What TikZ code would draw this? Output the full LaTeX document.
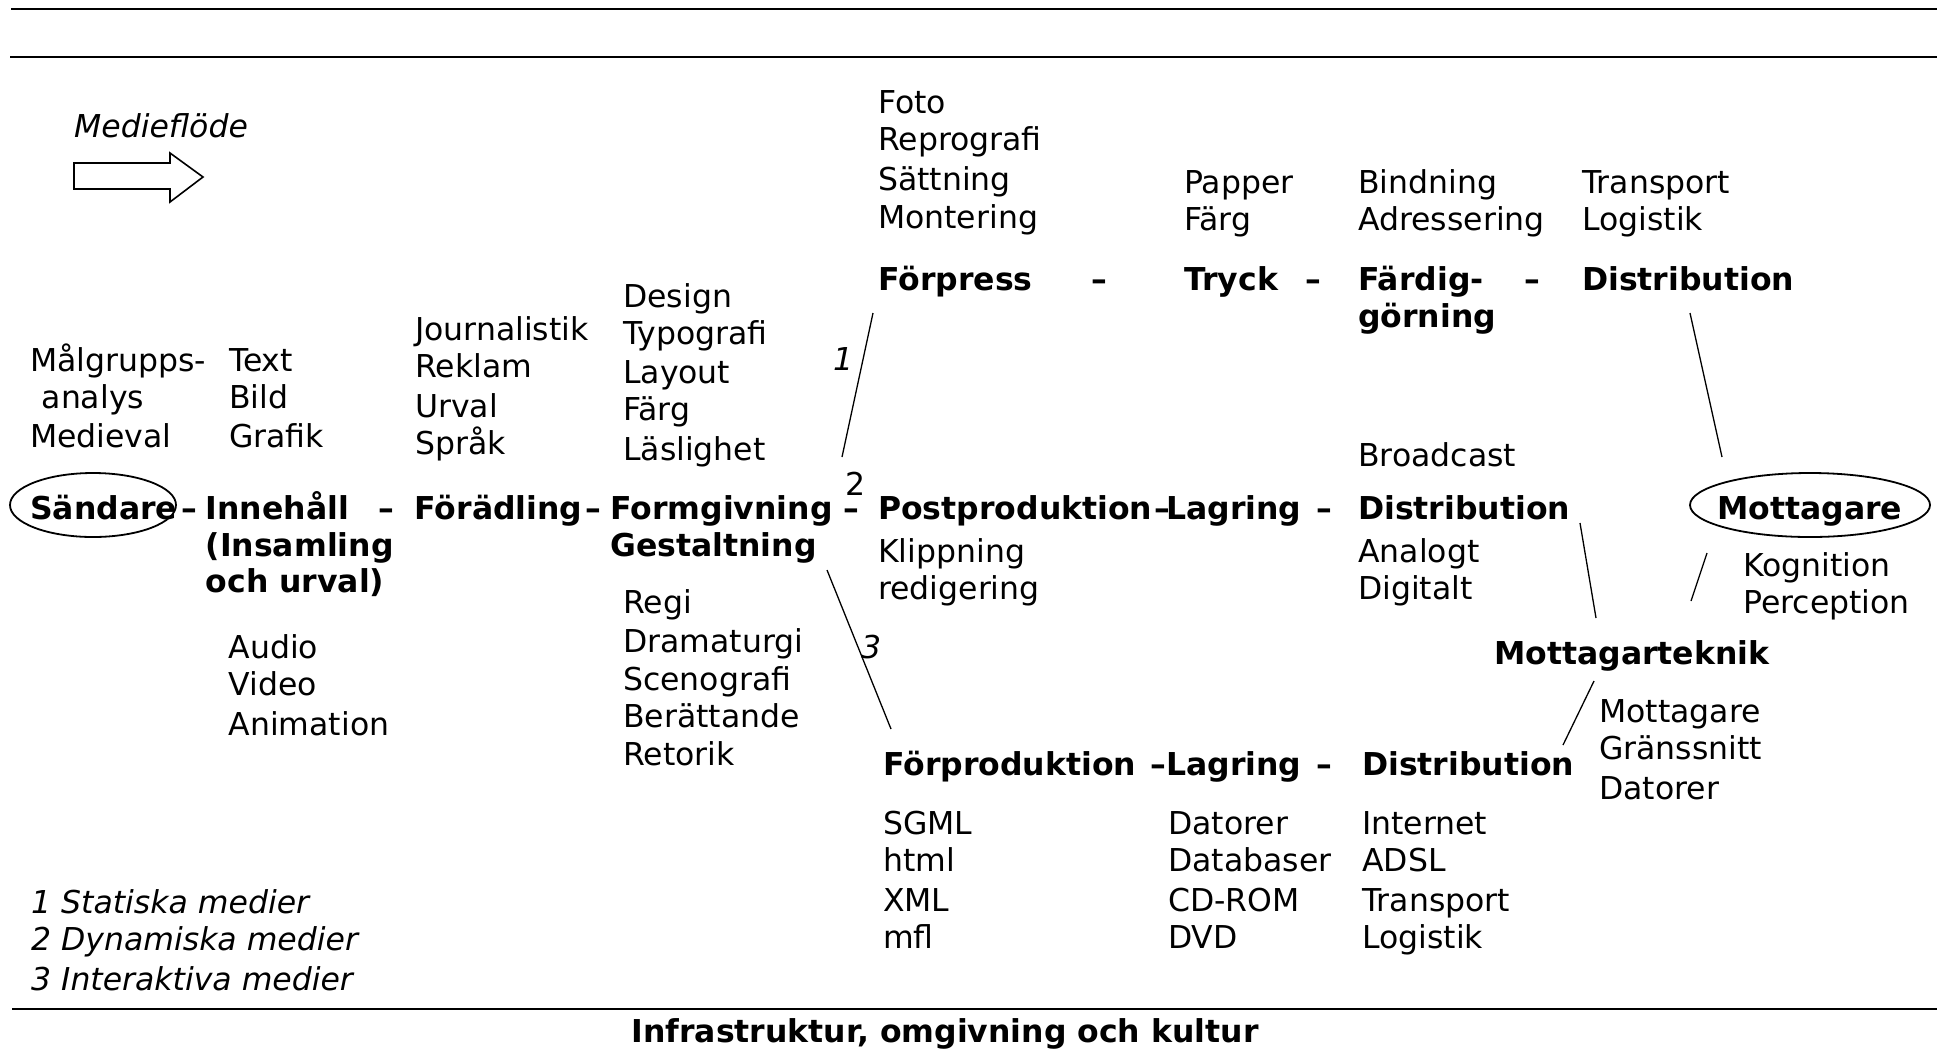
\documentclass[tikz,border=0pt]{standalone}
\usepackage{fontspec}
\setmainfont{DejaVu Sans}
\usetikzlibrary{shapes.geometric}
\def\mfReg{\fontsize{31.5}{38}\selectfont}
\def\mfBold{\fontsize{31.5}{38}\selectfont\bfseries}
\def\mfIt{\fontsize{31.5}{38}\selectfont\itshape}
% one column of plain words, given as baseline/text pairs
\def\mfCol#1#2#3{%
  \foreach \yb/\t [count=\i] in {#3}
    \node[mftxt] (#1\i) at (#2,\yb) {\t};}
\def\mfHead#1#2#3#4{\node[mfhead] (#1) at (#2,#3) {#4};}
\def\mfDash#1#2#3{\node[mfdash] (#1) at (#2,#3) {–};}

\begin{document}
\begin{tikzpicture}[
    x=1pt, y=-1pt,
    mftxt/.style  = {font=\mfReg,  anchor=base west, inner sep=0pt},
    mfhead/.style = {font=\mfBold, anchor=base west, inner sep=0pt},
    mfdash/.style = {font=\mfBold, anchor=base,      inner sep=0pt},
    mfnum/.style  = {font=\mfIt,   anchor=base west, inner sep=0pt},
    mfline/.style = {line width=1.3pt},
    mfrule/.style = {line width=2.4pt},
    mfring/.style = {draw, ellipse, line width=1.8pt, inner sep=0pt}]

  \useasboundingbox (0,0) rectangle (1937,1053);

  %% ---- frame rules -------------------------------------------------
  \coordinate (ruleAw) at (11,9);    \coordinate (ruleAe) at (1937,9);
  \coordinate (ruleBw) at (10,57);   \coordinate (ruleBe) at (1937,57);
  \coordinate (ruleCw) at (12,1009); \coordinate (ruleCe) at (1937,1009);
  \draw[mfrule] (ruleAw) -- (ruleAe);
  \draw[mfrule] (ruleBw) -- (ruleBe);
  \draw[mfrule] (ruleCw) -- (ruleCe);

  %% ---- media flow arrow --------------------------------------------
  \node[mfnum] (flode) at (74,137) {Medieflöde};
  \draw[line width=1.6pt] (74,163) -- (170,163) -- (170,153) -- (203,177)
    -- (170,202) -- (170,189) -- (74,189) -- cycle;

  %% ---- main row ----------------------------------------------------
  \node[mfring, minimum width=166pt, minimum height=64pt] (sring) at (93,505) {};
  \mfHead{sand}{30}{519}{Sändare}
  \mfDash{dA}{189}{519}
  \mfHead{inne}{205.5}{519}{Innehåll}
  \mfHead{insa}{205.5}{556}{(Insamling}
  \mfHead{ochu}{205.5}{592}{och urval)}
  \mfDash{dB}{386}{519}
  \mfHead{fora}{414.5}{519}{Förädling}
  \mfDash{dC}{593}{519}
  \mfHead{form}{610}{519}{Formgivning}
  \mfHead{gest}{610}{556}{Gestaltning}
  \mfDash{dD}{851}{519}
  \mfHead{post}{878}{519}{Postproduktion}
  \mfDash{dE}{1162}{519}
  \mfHead{lagA}{1166}{519}{Lagring}
  \mfDash{dF}{1324}{519}
  \mfHead{disA}{1358}{519}{Distribution}
  \node[mfring, minimum width=240pt, minimum height=64pt] (mring) at (1810,505) {};
  \mfHead{mott}{1717}{519}{Mottagare}

  %% ---- print row ---------------------------------------------------
  \mfHead{forp}{878}{290}{Förpress}
  \mfDash{dG}{1099}{290}
  \mfHead{tryc}{1184}{290}{Tryck}
  \mfDash{dH}{1313}{290}
  \mfHead{fard}{1358}{290}{Färdig-}
  \mfHead{gorn}{1358}{327}{görning}
  \mfDash{dI}{1532}{290}
  \mfHead{disB}{1582}{290}{Distribution}

  %% ---- interactive row ---------------------------------------------
  \mfHead{forprod}{883}{775}{Förproduktion}
  \mfDash{dJ}{1158}{775}
  \mfHead{lagB}{1166}{775}{Lagring}
  \mfDash{dK}{1324}{775}
  \mfHead{disC}{1362}{775}{Distribution}
  \mfHead{mtek}{1494}{664}{Mottagarteknik}

  %% ---- word columns ------------------------------------------------
  \mfCol{malg}{30}{371/Målgrupps-, 408/\hspace{11.5pt}analys, 447/Medieval}
  \mfCol{text}{229}{371/Text, 408/Bild, 447/Grafik}
  \mfCol{jour}{415}{340/Journalistik, 377/Reklam, 417/Urval, 454/Språk}
  \mfCol{desi}{623}{307/Design, 344/Typografi, 383/Layout, 420/Färg, 460/Läslighet}
  \mfCol{foto}{878}{113/Foto, 150/Reprografi, 190/Sättning, 228/Montering}
  \mfCol{papp}{1184}{193/Papper, 230/Färg}
  \mfCol{bind}{1358}{193/Bindning, 230/Adressering}
  \mfCol{tran}{1582}{193/Transport, 230/Logistik}
  \mfCol{broa}{1358}{466/Broadcast}
  \mfCol{klip}{878}{562/Klippning, 599/redigering}
  \mfCol{anal}{1358}{562/Analogt, 599/Digitalt}
  \mfCol{kogn}{1743}{576/Kognition, 613/Perception}
  \mfCol{regi}{623}{613/Regi, 652/Dramaturgi, 690/Scenografi, 727/Berättande, 765/Retorik}
  \mfCol{audi}{228.5}{658/Audio, 695/Video, 735/Animation}
  \mfCol{mgrs}{1599}{722/Mottagare, 759/Gränssnitt, 799/Datorer}
  \mfCol{sgml}{883}{834/SGML, 871/html, 911/XML, 948/mfl}
  \mfCol{dato}{1168}{834/Datorer, 871/Databaser, 911/CD-ROM, 948/DVD}
  \mfCol{inte}{1362}{834/Internet, 871/ADSL, 911/Transport, 948/Logistik}

  %% ---- branch lines and numbers ------------------------------------
  \coordinate (brAt) at (873,313);   \coordinate (brAb) at (842,457);
  \coordinate (brCt) at (827,570);   \coordinate (brCb) at (891,729);
  \coordinate (toMt) at (1690,313);  \coordinate (toMb) at (1722,457);
  \coordinate (toTt) at (1580,523);  \coordinate (toTb) at (1596,618);
  \coordinate (kogt) at (1707,553);  \coordinate (kogb) at (1691,601);
  \coordinate (mtkt) at (1594,681);  \coordinate (mtkb) at (1563,745);
  \draw[mfline] (brAt) -- (brAb);
  \draw[mfline] (brCt) -- (brCb);
  \draw[mfline] (toMt) -- (toMb);
  \draw[mfline] (toTt) -- (toTb);
  \draw[mfline] (kogt) -- (kogb);
  \draw[mfline] (mtkt) -- (mtkb);
  \node[mfnum] (numA) at (833,370) {1};
  \node[mftxt] (numB) at (845,495) {2};
  \node[mfnum] (numC) at (861,658) {3};

  %% ---- legend and footer -------------------------------------------
  \node[mfnum] (legA) at (31,913) {1 Statiska medier};
  \node[mfnum] (legB) at (31,950) {2 Dynamiska medier};
  \node[mfnum] (legC) at (31,990) {3 Interaktiva medier};
  \node[mfdash] (infra) at (945,1042) {Infrastruktur, omgivning och kultur};
\end{tikzpicture}
\end{document}
